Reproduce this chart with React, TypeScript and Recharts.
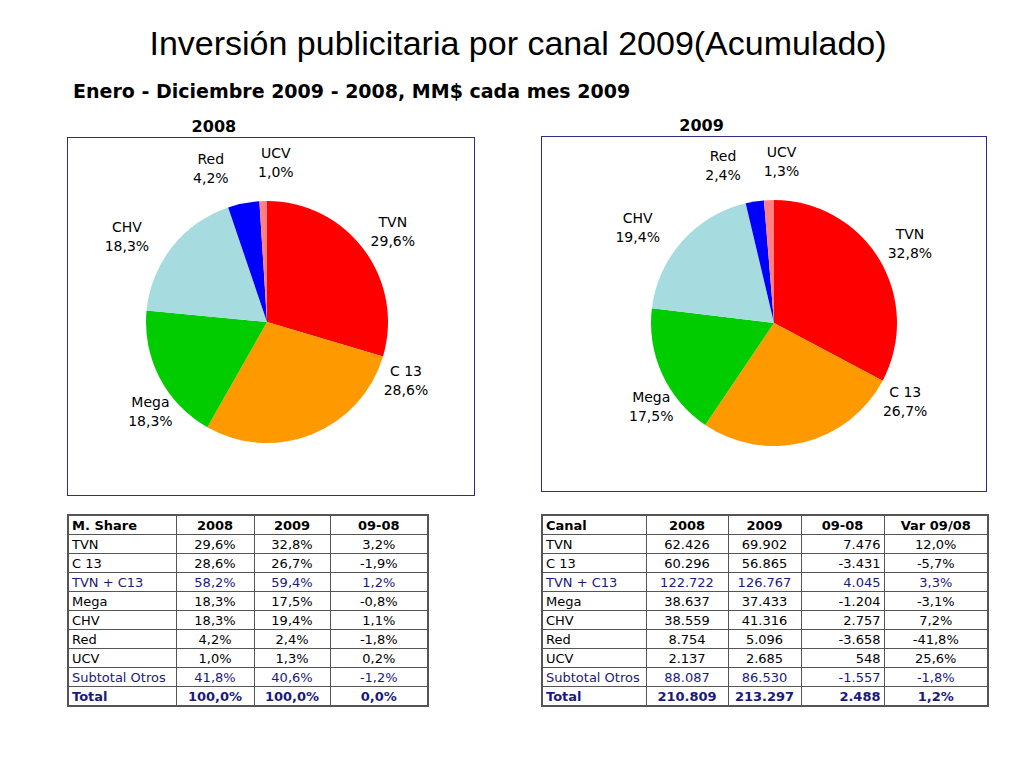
import React from 'react';
import { PieChart, Pie, Cell } from 'recharts';

// pie slices
const channels = ['TVN', 'C 13', 'Mega', 'CHV', 'Red', 'UCV'];
const share2008 = [29.6, 28.6, 18.3, 18.3, 4.2, 1.0];
const share2009 = [32.8, 26.7, 17.5, 19.4, 2.4, 1.3];
const sliceColors = ['#FF0000', '#FF9900', '#00CC00', '#A6DCE0', '#0000FF', '#FF8080'];

// label placement tweaks (degrees off the mid angle, px beyond the rim)
const labelTurn = [-1, 45, 10, 7, 9, -5];
const labelGap = [34, 30, 26, 43, 42, 38];

// tables
const tableRows = ['TVN', 'C 13', 'TVN + C13', 'Mega', 'CHV', 'Red', 'UCV', 'Subtotal Otros', 'Total'];
const shareCol2008 = [29.6, 28.6, 58.2, 18.3, 18.3, 4.2, 1.0, 41.8, 100.0];
const shareCol2009 = [32.8, 26.7, 59.4, 17.5, 19.4, 2.4, 1.3, 40.6, 100.0];
const shareDiff = [3.2, -1.9, 1.2, -0.8, 1.1, -1.8, 0.2, -1.2, 0.0];
const amount2008 = [62426, 60296, 122722, 38637, 38559, 8754, 2137, 88087, 210809];
const amount2009 = [69902, 56865, 126767, 37433, 41316, 5096, 2685, 86530, 213297];
const amountDiff = [7476, -3431, 4045, -1204, 2757, -3658, 548, -1557, 2488];
const amountVar = [12.0, -5.7, 3.3, -3.1, 7.2, -41.8, 25.6, -1.8, 1.2];

const FONT = '"DejaVu Sans", Verdana, sans-serif';
const NAVY = '#1A1A7A';
const RAD = Math.PI / 180;

const pct = (v: number) => v.toFixed(1).replace('.', ',') + '%';
const thousands = (v: number) => {
  const s = String(Math.abs(v)).replace(/\B(?=(\d{3})+(?!\d))/g, '.');
  return (v < 0 ? '-' : '') + s;
};

const pieData = (values: number[]) => channels.map((name, i) => ({ name, value: values[i] }));

function renderLabel(props: any) {
  const { cx, cy, midAngle, outerRadius, index, name, value } = props;
  const a = (midAngle + labelTurn[index]) * RAD;
  const r = outerRadius + labelGap[index];
  const x = cx + r * Math.cos(a);
  const y = cy - r * Math.sin(a);
  return (
    <text x={x} y={y} textAnchor="middle" fontFamily={FONT} fontSize={14} fill="#000">
      <tspan x={x} y={y - 5}>{name}</tspan>
      <tspan x={x} y={y + 14}>{pct(value)}</tspan>
    </text>
  );
}

function PieBox({ year, values, left, top, width, height, cx, cy, radius }: any) {
  return (
    <>
      <div
        style={{
          position: 'absolute', left, top: top - 20, width: width * 0.72, textAlign: 'center',
          fontFamily: FONT, fontWeight: 'bold', fontSize: 16,
        }}
      >
        {year}
      </div>
      <div style={{ position: 'absolute', left, top, width, height }}>
        <PieChart width={width} height={height} margin={{ top: 0, right: 0, bottom: 0, left: 0 }}>
          <Pie
            data={pieData(values)}
            dataKey="value"
            nameKey="name"
            cx={cx}
            cy={cy}
            outerRadius={radius}
            startAngle={90}
            endAngle={-270}
            stroke="none"
            label={renderLabel}
            labelLine={false}
            isAnimationActive={false}
          >
            {channels.map((c, i) => <Cell key={c} fill={sliceColors[i]} />)}
          </Pie>
        </PieChart>
      </div>
      <div
        style={{
          position: 'absolute', left, top, width, height, boxSizing: 'border-box',
          border: '1.5px solid #2E2E8A', pointerEvents: 'none',
        }}
      />
    </>
  );
}

function rowStyle(i: number): React.CSSProperties {
  const name = tableRows[i];
  if (name === 'Total') return { color: NAVY, fontWeight: 'bold' };
  if (name === 'TVN + C13' || name === 'Subtotal Otros') return { color: NAVY };
  return { color: '#000' };
}

const cellBase: React.CSSProperties = {
  border: '1px solid #555', padding: '0 3px', height: 18, lineHeight: '17px', whiteSpace: 'nowrap',
};

function DataTable({ left, top, headers, widths, columns, aligns }: any) {
  return (
    <table
      style={{
        position: 'absolute', left, top, borderCollapse: 'collapse', border: '2px solid #555',
        fontFamily: FONT, fontSize: 13, tableLayout: 'fixed',
      }}
    >
      <colgroup>
        {widths.map((w: number, i: number) => <col key={i} style={{ width: w }} />)}
      </colgroup>
      <tbody>
        <tr>
          {headers.map((h: string, i: number) => (
            <td key={h} style={{ ...cellBase, fontWeight: 'bold', textAlign: i === 0 ? 'left' : 'center' }}>{h}</td>
          ))}
        </tr>
        {tableRows.map((name, r) => (
          <tr key={name} style={rowStyle(r)}>
            <td style={{ ...cellBase, textAlign: 'left' }}>{name}</td>
            {columns.map((col: string[], c: number) => (
              <td key={c} style={{ ...cellBase, textAlign: aligns[c] }}>{col[r]}</td>
            ))}
          </tr>
        ))}
      </tbody>
    </table>
  );
}

export default function App() {
  return (
    <div style={{ position: 'absolute', left: 0, top: 0, width: 1024, height: 768, background: '#fff', overflow: 'hidden' }}>
      <div
        style={{
          position: 'absolute', left: 0, top: 24, width: 1036, textAlign: 'center',
          fontFamily: '"Liberation Sans", Arial, sans-serif', fontSize: 34, color: '#000',
        }}
      >
        Inversión publicitaria por canal 2009(Acumulado)
      </div>
      <div
        style={{
          position: 'absolute', left: 73, top: 80, fontFamily: FONT, fontWeight: 'bold', fontSize: 19, color: '#000',
        }}
      >
        Enero - Diciembre 2009 - 2008, MM$ cada mes 2009
      </div>

      <PieBox year="2008" values={share2008} left={67} top={137} width={408} height={359} cx={200} cy={185} radius={121} />
      <PieBox year="2009" values={share2009} left={541} top={136} width={446} height={356} cx={233} cy={187} radius={123} />

      <DataTable
        left={67}
        top={514}
        headers={['M. Share', '2008', '2009', '09-08']}
        widths={[108, 78, 76, 98]}
        columns={[shareCol2008.map(pct), shareCol2009.map(pct), shareDiff.map(pct)]}
        aligns={['center', 'center', 'center']}
      />
      <DataTable
        left={541}
        top={514}
        headers={['Canal', '2008', '2009', '09-08', 'Var 09/08']}
        widths={[104, 82, 73, 83, 104]}
        columns={[amount2008.map(thousands), amount2009.map(thousands), amountDiff.map(thousands), amountVar.map(pct)]}
        aligns={['center', 'center', 'right', 'center']}
      />
    </div>
  );
}
